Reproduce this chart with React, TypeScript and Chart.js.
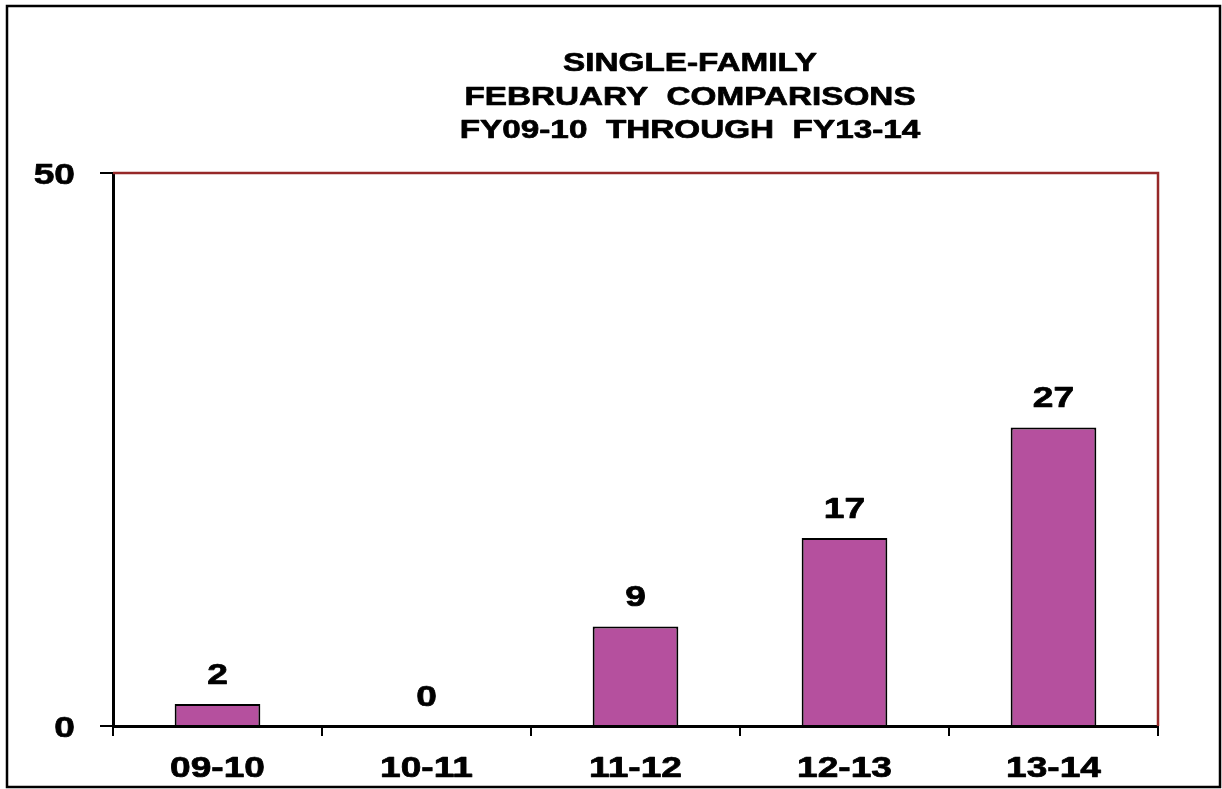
import React, { useEffect, useRef } from "react";
import { Chart, registerables } from "chart.js";

Chart.register(...registerables);

const categories: string[] = ["09-10", "10-11", "11-12", "12-13", "13-14"];
const values: number[] = [2, 0, 9, 17, 27];
const yTicks: number[] = [0, 50];
const titleLines: string[] = [
  "SINGLE-FAMILY",
  "FEBRUARY  COMPARISONS",
  "FY09-10  THROUGH  FY13-14",
];

const FONT = '"Liberation Sans", Arial, sans-serif';
const STRETCH = 1.28;

function stretchedText(
  ctx: CanvasRenderingContext2D,
  text: string,
  x: number,
  y: number,
  size: number,
  align: CanvasTextAlign
) {
  ctx.save();
  ctx.translate(x, y);
  ctx.scale(STRETCH, 1);
  ctx.font = `bold ${size}px ${FONT}`;
  ctx.fillStyle = "#000";
  ctx.strokeStyle = "#000";
  ctx.lineWidth = 0.7;
  ctx.lineJoin = "round";
  ctx.textAlign = align;
  ctx.textBaseline = "alphabetic";
  ctx.fillText(text, 0, 0);
  ctx.strokeText(text, 0, 0);
  ctx.restore();
}

const decorPlugin = {
  id: "decor",
  afterDraw(chart: any) {
    const ctx: CanvasRenderingContext2D = chart.ctx;
    const { left, right, top, bottom } = chart.chartArea;
    // red top / right frame
    ctx.save();
    ctx.strokeStyle = "#962828";
    ctx.lineWidth = 2.5;
    ctx.beginPath();
    ctx.moveTo(left, top);
    ctx.lineTo(right, top);
    ctx.lineTo(right, bottom);
    ctx.stroke();
    // outer border
    ctx.strokeStyle = "#000";
    ctx.lineWidth = 2.5;
    ctx.strokeRect(7, 6, 1213, 781);
    ctx.restore();

    // title
    titleLines.forEach((line, i) => {
      stretchedText(ctx, line, 690, 71 + i * 33.5, 26, "center");
    });

    // x labels
    const xs = chart.scales.x;
    xs.ticks.forEach((t: any, i: number) => {
      const px = xs.getPixelForTick(i);
      stretchedText(ctx, String(xs.getLabelForValue(t.value)), px, 777, 29, "center");
    });

    // y labels
    const ys = chart.scales.y;
    ys.ticks.forEach((t: any) => {
      const py = ys.getPixelForValue(t.value);
      stretchedText(ctx, String(t.value), 75, py + 11, 29, "right");
    });

    // data labels
    const meta = chart.getDatasetMeta(0);
    meta.data.forEach((bar: any, i: number) => {
      stretchedText(ctx, String(values[i]), bar.x, bar.y - 20, 29, "center");
    });
  },
};

export default function App() {
  const canvasRef = useRef<HTMLCanvasElement | null>(null);

  useEffect(() => {
    if (!canvasRef.current) return;
    const chart = new Chart(canvasRef.current, {
      type: "bar",
      data: {
        labels: categories,
        datasets: [
          {
            data: values,
            backgroundColor: "#B5509E",
            borderColor: "#000",
            borderWidth: 2,
            barPercentage: 0.41,
            categoryPercentage: 1,
          },
        ],
      },
      options: {
        animation: false,
        responsive: true,
        maintainAspectRatio: false,
        layout: { padding: { top: 173, left: 0, right: 64, bottom: 0 } },
        plugins: {
          legend: { display: false },
          title: { display: false },
          tooltip: { enabled: false },
        },
        scales: {
          x: {
            offset: true,
            grid: {
              offset: true,
              drawOnChartArea: false,
              drawTicks: true,
              tickLength: 10,
              color: "#000",
              lineWidth: 2,
            },
            border: { display: true, color: "#000", width: 3 },
            ticks: { display: false },
            afterFit: (s: any) => {
              s.height = 63;
            },
          },
          y: {
            min: 0,
            max: 50,
            afterBuildTicks: (s: any) => {
              s.ticks = yTicks.map((v) => ({ value: v }));
            },
            grid: {
              drawOnChartArea: false,
              drawTicks: true,
              tickLength: 13,
              color: "#000",
              lineWidth: 2,
            },
            border: { display: true, color: "#000", width: 3 },
            ticks: { display: false },
            afterFit: (s: any) => {
              s.width = 113;
            },
          },
        },
      },
      plugins: [decorPlugin],
    });
    return () => chart.destroy();
  }, []);

  return (
    <div
      style={{
        position: "absolute",
        left: 0,
        top: 0,
        width: 1222,
        height: 789,
        background: "#fff",
      }}
    >
      <canvas ref={canvasRef} />
    </div>
  );
}
